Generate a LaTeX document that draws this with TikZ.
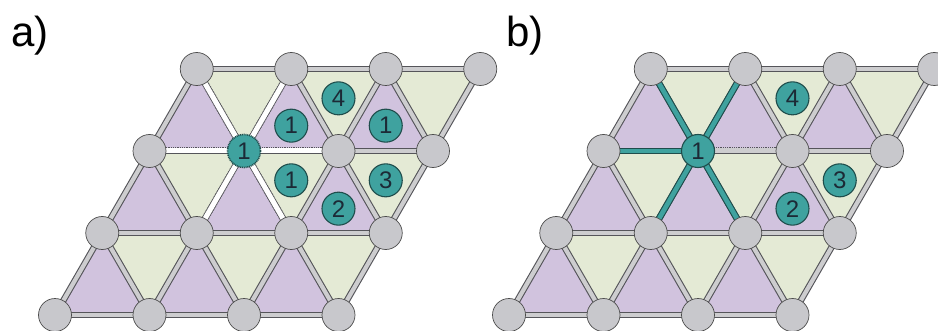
\documentclass[tikz,border=0pt]{standalone}
\usepackage{fontspec}
\setmainfont{Liberation Sans}
\usetikzlibrary{positioning,calc}
\definecolor{lilac}{HTML}{D1C3DE}
\definecolor{sage}{HTML}{E4EAD5}
\definecolor{bondgray}{HTML}{CDCDCF}
\definecolor{bondedge}{HTML}{55555A}
\definecolor{sitegray}{HTML}{C8C8CC}
\definecolor{atomteal}{HTML}{3FA29F}
\definecolor{atomedge}{HTML}{1F4D4C}
\definecolor{numink}{HTML}{1C2A36}

\begin{document}
\begin{tikzpicture}[x=1pt,y=1pt,
  site/.style={circle,fill=sitegray,draw=gray!60!black,line width=0.7pt,minimum size=33pt,inner sep=0pt},
  atom/.style={circle,fill=atomteal,draw=atomedge,line width=1.1pt,minimum size=33pt,inner sep=0pt,
    text=numink,font=\fontsize{24}{24}\selectfont},
  bond/.style={draw=bondedge,line width=1.1pt,double=bondgray,double distance=4.2pt},
  tealbond/.style={draw=atomedge,line width=1.1pt,double=atomteal,double distance=4.6pt},
  dotrim/.style={draw=bondedge,line width=7pt,dash pattern=on 0.9pt off 0.9pt},
  panel/.style={font=\fontsize{42}{42}\selectfont,anchor=base west,inner sep=0pt}]
\useasboundingbox (0,0) rectangle (938,330);

% lattice points of both panels
\foreach \p/\ox in {a/55,b/509}
  \foreach \i in {0,...,3}
    \foreach \j in {0,...,3}
      \coordinate (\p\i\j) at ({\ox+94.5*\i+47.25*\j},{15+82*\j});

% triangles
\foreach \p in {a,b} {
  \foreach \i [evaluate=\i as \k using int(\i+1)] in {0,1,2} {
    \foreach \j [evaluate=\j as \l using int(\j+1)] in {0,1,2} {
      \fill[lilac] (\p\i\j) -- (\p\k\j) -- (\p\i\l) -- cycle;
      \fill[sage] (\p\k\j) -- (\p\k\l) -- (\p\i\l) -- cycle;
    }
  }
}

% bonds
\foreach \p in {a,b} {
  \foreach \i [evaluate=\i as \k using int(\i+1)] in {0,1,2} {
    \foreach \j in {0,...,3} {
      \draw[bond] (\p\i\j) -- (\p\k\j);
      \draw[bond] (\p\j\i) -- (\p\j\k);
    }
  }
  \foreach \i [evaluate=\i as \k using int(\i+1)] in {0,1,2} {
    \foreach \j [evaluate=\j as \l using int(\j+1)] in {0,1,2}
      \draw[bond] (\p\k\j) -- (\p\i\l);
  }
}

% a) broken bonds round the centre
\foreach \n in {02,22,13,03,11,21} {
  \draw[dotrim] (a12) -- (a\n);
  \draw[white,line width=5pt] (a12) -- (a\n);
}
% b) bonds to the adatom
\foreach \n in {02,13,03,11,21}
  \draw[tealbond] (b12) -- (b\n);
\draw[dotrim] (b12) -- (b22);
\draw[bondgray,line width=5pt] (b12) -- (b22);

% sites
\foreach \p in {a,b} {
  \foreach \i in {0,...,3} {
    \foreach \j in {0,...,3} {
      \ifnum\i\j=12 \else \node[site] (s\p\i\j) at (\p\i\j) {}; \fi
    }
  }
}

% atoms
\node[atom,draw=atomedge,dash pattern=on 1pt off 0.8pt,line width=1.6pt] (ca) at (a12) {1};
\node[atom] (cb) at (b12) {1};
\node[atom] (a1u) at ($1/3*(a12)+1/3*(a22)+1/3*(a13)+(0,-2)$) {1};
\node[atom] (a4) at ($1/3*(a22)+1/3*(a23)+1/3*(a13)+(0,-2)$) {4};
\node[atom] (a1r) at ($1/3*(a22)+1/3*(a32)+1/3*(a23)+(0,-2)$) {1};
\node[atom] (a1d) at ($1/3*(a21)+1/3*(a22)+1/3*(a12)+(0,-2)$) {1};
\node[atom] (a3) at ($1/3*(a31)+1/3*(a32)+1/3*(a22)+(0,-2)$) {3};
\node[atom] (a2) at ($1/3*(a21)+1/3*(a31)+1/3*(a22)+(0,-3)$) {2};
\node[atom] (b4) at ($1/3*(b22)+1/3*(b23)+1/3*(b13)+(0,-2)$) {4};
\node[atom] (b3) at ($1/3*(b31)+1/3*(b32)+1/3*(b22)+(0,-2)$) {3};
\node[atom] (b2) at ($1/3*(b21)+1/3*(b31)+1/3*(b22)+(0,-3)$) {2};

% panel labels
\node[panel] (la) at (11,283) {a)};
\node[panel] (lb) at (506,283) {b)};
\end{tikzpicture}
\end{document}
